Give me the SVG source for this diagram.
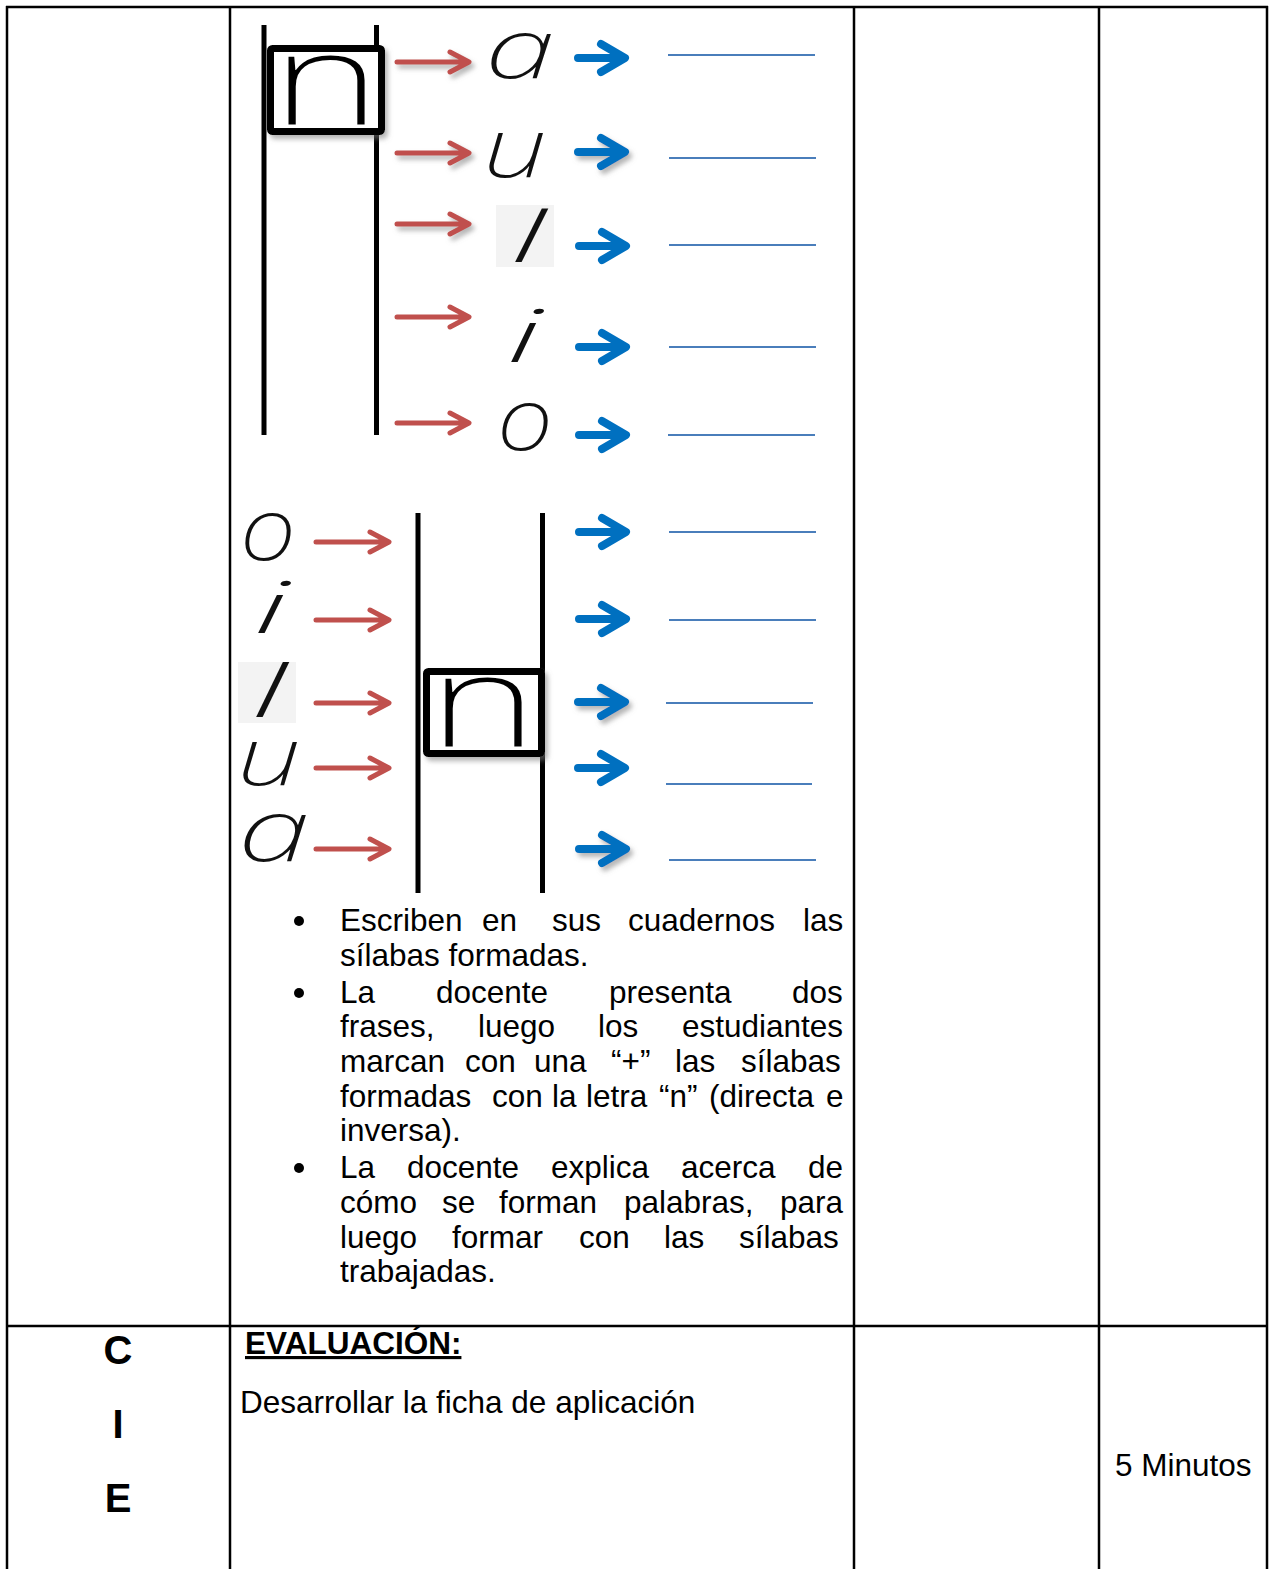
<svg xmlns="http://www.w3.org/2000/svg" width="1274" height="1569" viewBox="0 0 1274 1569">
<style>
.grid{stroke:#000;stroke-width:2.5;fill:none}
.bar{stroke:#000;stroke-width:5;fill:none}
.box{stroke:#000;stroke-width:7;fill:#fff}
.red{stroke:#c0504d;stroke-width:5;fill:none;stroke-linecap:round;stroke-linejoin:round}
.blue{stroke:#0070c0;stroke-width:8;fill:none;stroke-linecap:round;stroke-linejoin:round}
.bl{stroke:#4a7ebb;stroke-width:2.2}
.cur{font-family:"Noto Sans","DejaVu Sans",sans-serif;font-style:italic;font-weight:200;fill:#111;text-anchor:middle}
.nn{font-family:"Noto Sans","DejaVu Sans",sans-serif;font-weight:250;fill:#000;text-anchor:middle}
.t{font-family:"Liberation Sans",Arial,sans-serif;font-size:31.5px;fill:#000}
.b{font-family:"Liberation Sans",Arial,sans-serif;font-weight:bold;fill:#000}
</style>
<defs>
<filter id="sh" x="-20%" y="-40%" width="150%" height="200%">
<feDropShadow dx="3" dy="4" stdDeviation="2.5" flood-color="#777" flood-opacity="0.55"/>
</filter>
</defs>
<rect width="1274" height="1569" fill="#fff"/>
<g id="table">
<line class="grid" x1="6" y1="7" x2="1268" y2="7"/>
<line class="grid" x1="6" y1="1326" x2="1268" y2="1326"/>
<line class="grid" x1="7" y1="6" x2="7" y2="1569"/>
<line class="grid" x1="230" y1="6" x2="230" y2="1569"/>
<line class="grid" x1="854" y1="6" x2="854" y2="1569"/>
<line class="grid" x1="1099" y1="6" x2="1099" y2="1569"/>
<line class="grid" x1="1267" y1="6" x2="1267" y2="1569"/>
</g>
<g id="top-frame">
<line class="bar" x1="264" y1="25" x2="264" y2="435"/>
<line class="bar" x1="376.5" y1="25" x2="376.5" y2="435"/>
<rect class="box" x="270.5" y="48.5" width="111" height="83" rx="2" filter="url(#sh)"/>
<text class="nn" x="326" y="125" font-size="128" textLength="108" lengthAdjust="spacingAndGlyphs">n</text>
</g>
<g id="top-letters">
<text class="cur" x="520" y="78" font-size="84" textLength="70" lengthAdjust="spacingAndGlyphs">a</text>
<text class="cur" x="515" y="177" font-size="84" textLength="64" lengthAdjust="spacingAndGlyphs">u</text>
<rect x="496" y="205" width="58" height="62" fill="#f3f3f3"/>
<text class="cur" x="528" y="262" font-size="70" textLength="36" lengthAdjust="spacingAndGlyphs">l</text>
<text class="cur" x="524" y="362" font-size="74" textLength="36" lengthAdjust="spacingAndGlyphs">i</text>
<text class="cur" x="525" y="450" font-size="86" textLength="56" lengthAdjust="spacingAndGlyphs">o</text>
</g>
<g id="bottom-frame">
<line class="bar" x1="418" y1="513" x2="418" y2="893"/>
<line class="bar" x1="542.5" y1="513" x2="542.5" y2="893"/>
<rect class="box" x="426.5" y="671.5" width="115" height="82" rx="2" filter="url(#sh)"/>
<text class="nn" x="483" y="747" font-size="128" textLength="108" lengthAdjust="spacingAndGlyphs">n</text>
</g>
<g id="bottom-letters">
<text class="cur" x="268" y="560" font-size="86" textLength="56" lengthAdjust="spacingAndGlyphs">o</text>
<text class="cur" x="271" y="633" font-size="72" textLength="36" lengthAdjust="spacingAndGlyphs">i</text>
<rect x="238" y="662" width="58" height="61" fill="#f3f3f3"/>
<text class="cur" x="269" y="717" font-size="72" textLength="36" lengthAdjust="spacingAndGlyphs">l</text>
<text class="cur" x="269" y="785" font-size="82" textLength="64" lengthAdjust="spacingAndGlyphs">u</text>
<text class="cur" x="274" y="861" font-size="86" textLength="72" lengthAdjust="spacingAndGlyphs">a</text>
</g>
<g id="connectors">
<path class="red" filter="url(#sh)" d="M397,62H466M450,52L469,62L450,72"/>
<path class="red" filter="url(#sh)" d="M397,153H466M450,143L469,153L450,163"/>
<path class="red" filter="url(#sh)" d="M397,224H466M450,214L469,224L450,234"/>
<path class="red" d="M397,317H466M450,307L469,317L450,327"/>
<path class="red" d="M397,423H466M450,413L469,423L450,433"/>
<path class="red" d="M316,542H386M370,532L389,542L370,552"/>
<path class="red" d="M316,620H386M370,610L389,620L370,630"/>
<path class="red" d="M316,703H386M370,693L389,703L370,713"/>
<path class="red" d="M316,768H386M370,758L389,768L370,778"/>
<path class="red" d="M316,849H386M370,839L389,849L370,859"/>
<path class="blue" d="M578,58H620M601,44L625,58L601,72"/>
<path class="blue" filter="url(#sh)" d="M578,152H620M601,138L625,152L601,166"/>
<path class="blue" d="M579,246H621M602,232L626,246L602,260"/>
<path class="blue" d="M579,347H621M602,333L626,347L602,361"/>
<path class="blue" d="M579,435H621M602,421L626,435L602,449"/>
<path class="blue" d="M579,532H621M602,518L626,532L602,546"/>
<path class="blue" d="M579,619H621M602,605L626,619L602,633"/>
<path class="blue" filter="url(#sh)" d="M578,702H620M601,688L625,702L601,716"/>
<path class="blue" d="M578,768H620M601,754L625,768L601,782"/>
<path class="blue" filter="url(#sh)" d="M579,849H621M602,835L626,849L602,863"/>
<line class="bl" x1="668" y1="55" x2="815" y2="55"/>
<line class="bl" x1="669" y1="158" x2="816" y2="158"/>
<line class="bl" x1="669" y1="245" x2="816" y2="245"/>
<line class="bl" x1="669" y1="347" x2="816" y2="347"/>
<line class="bl" x1="668" y1="435" x2="815" y2="435"/>
<line class="bl" x1="669" y1="532" x2="816" y2="532"/>
<line class="bl" x1="669" y1="620" x2="816" y2="620"/>
<line class="bl" x1="666" y1="703" x2="813" y2="703"/>
<line class="bl" x1="666" y1="784" x2="812" y2="784"/>
<line class="bl" x1="669" y1="860" x2="816" y2="860"/>
</g>
<g id="bullets">
<circle cx="299" cy="921" r="5"/>
<circle cx="299" cy="993" r="5"/>
<circle cx="299" cy="1168" r="5"/>
<text class="t" y="931"><tspan x="340">Escriben</tspan><tspan x="482">en</tspan><tspan x="552">sus</tspan><tspan x="628">cuadernos</tspan><tspan x="803">las</tspan></text>
<text class="t" x="340" y="966">sílabas formadas.</text>
<text class="t" y="1003"><tspan x="340">La</tspan><tspan x="436">docente</tspan><tspan x="609">presenta</tspan><tspan x="792">dos</tspan></text>
<text class="t" y="1037"><tspan x="340">frases,</tspan><tspan x="478">luego</tspan><tspan x="598">los</tspan><tspan x="682">estudiantes</tspan></text>
<text class="t" y="1072"><tspan x="340">marcan</tspan><tspan x="465">con</tspan><tspan x="534">una</tspan><tspan x="611">“+”</tspan><tspan x="675">las</tspan><tspan x="741">sílabas</tspan></text>
<text class="t" y="1107"><tspan x="340">formadas</tspan><tspan x="492">con</tspan><tspan x="552">la</tspan><tspan x="586">letra</tspan><tspan x="659">“n”</tspan><tspan x="709">(directa</tspan><tspan x="826">e</tspan></text>
<text class="t" x="340" y="1141">inversa).</text>
<text class="t" y="1178"><tspan x="340">La</tspan><tspan x="407">docente</tspan><tspan x="551">explica</tspan><tspan x="681">acerca</tspan><tspan x="808">de</tspan></text>
<text class="t" y="1213"><tspan x="340">cómo</tspan><tspan x="442">se</tspan><tspan x="499">forman</tspan><tspan x="624">palabras,</tspan><tspan x="780">para</tspan></text>
<text class="t" y="1248"><tspan x="340">luego</tspan><tspan x="452">formar</tspan><tspan x="579">con</tspan><tspan x="664">las</tspan><tspan x="739">sílabas</tspan></text>
<text class="t" x="340" y="1282">trabajadas.</text>
</g>
<g id="evaluacion">
<text class="b" x="245" y="1354" font-size="31.5" text-decoration="underline">EVALUACIÓN:</text>
<text class="t" x="240" y="1413">Desarrollar la ficha de aplicación</text>
</g>
<g id="cie">
<text class="b" x="118" y="1364" font-size="40" text-anchor="middle">C</text>
<text class="b" x="118" y="1438" font-size="40" text-anchor="middle">I</text>
<text class="b" x="118" y="1512" font-size="40" text-anchor="middle">E</text>
</g>
<g id="time">
<text class="t" x="1115" y="1476">5 Minutos</text>
</g>
</svg>
